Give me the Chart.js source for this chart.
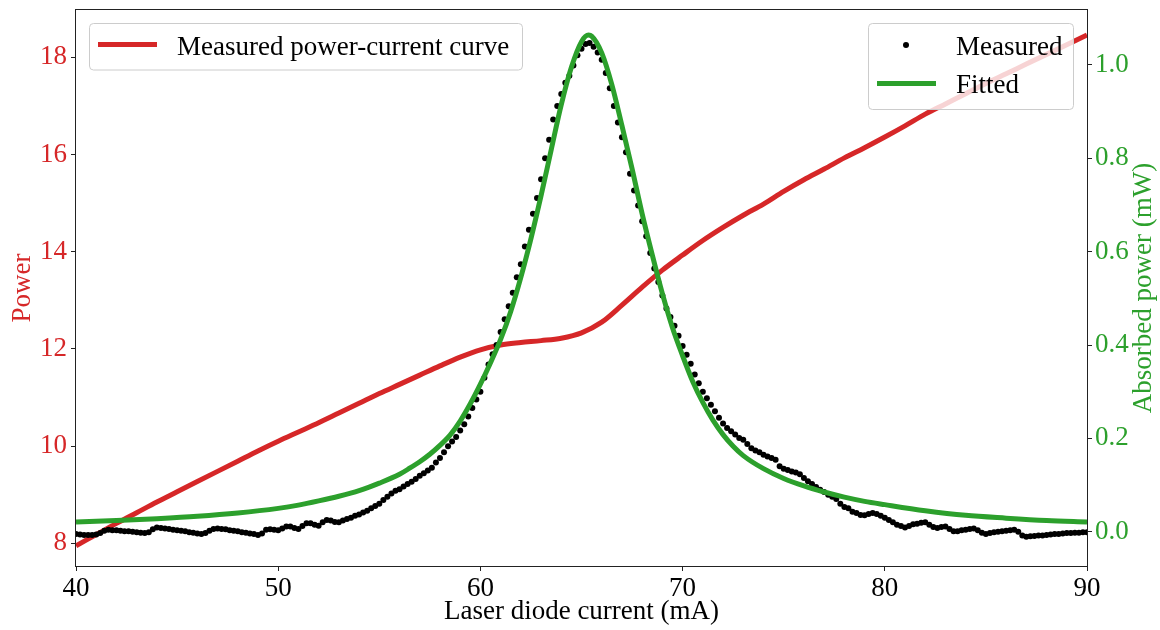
<!DOCTYPE html>
<html>
<head>
<meta charset="utf-8">
<script src="https://cdn.jsdelivr.net/npm/chart.js@4.4.1/dist/chart.umd.min.js"></script>
<style>
  html, body { margin: 0; padding: 0; background: #fff; }
</style>
</head>
<body>
<canvas id="myChart" width="1160" height="630"></canvas>
<script>
// tick labels
var xTicks = [40, 50, 60, 70, 80, 90];
var powerTicks = [8, 10, 12, 14, 16, 18];
var absTicks = [0.0, 0.2, 0.4, 0.6, 0.8, 1.0];

// measured power-current curve (left axis)
var powerCurrent = [40, 41, 42, 43, 44, 45, 46, 47, 48, 49, 50, 51, 52, 53, 54, 55, 56, 57, 58, 59,
    60, 61, 62, 63, 64, 65, 66, 67, 68, 69, 70, 71, 72, 73, 74, 75, 76, 77, 78, 79,
    80, 81, 82, 83, 84, 85, 86, 87, 88, 89, 90];
var powerValues = [7.95, 8.18, 8.41, 8.63, 8.85, 9.06, 9.27, 9.48, 9.69, 9.90, 10.10, 10.29, 10.48, 10.68, 10.88, 11.08, 11.27, 11.46, 11.65, 11.83,
    11.98, 12.08, 12.13, 12.17, 12.22, 12.33, 12.55, 12.90, 13.27, 13.62, 13.93, 14.23, 14.50, 14.75, 14.98, 15.24, 15.48, 15.70, 15.93, 16.14,
    16.36, 16.59, 16.83, 17.04, 17.25, 17.46, 17.66, 17.86, 18.06, 18.26, 18.46];

// absorbed power, measured points: 40 mA to 90 mA every 0.2 mA (one row per mA)
var measuredStart = 40;
var measuredStep = 0.2;
var measuredValues = [
    -0.005, -0.006, -0.007, -0.007, -0.007,   // 40
    -0.006, -0.003, 0.002, 0.004, 0.003,      // 41
    0.003, 0.002, 0.001, 0.001, 0.000,        // 42
    -0.001, -0.002, -0.003, -0.001, 0.005,    // 43
    0.009, 0.008, 0.007, 0.006, 0.004,        // 44
    0.003, 0.002, 0.001, -0.001, -0.002,      // 45
    -0.004, -0.005, -0.003, 0.002, 0.006,     // 46
    0.007, 0.006, 0.005, 0.003, 0.002,        // 47
    0.001, -0.001, -0.002, -0.004, -0.005,    // 48
    -0.007, -0.004, 0.004, 0.005, 0.004,      // 49
    0.003, 0.007, 0.011, 0.011, 0.008,        // 50
    0.006, 0.012, 0.018, 0.018, 0.015,        // 51
    0.013, 0.020, 0.025, 0.024, 0.021,        // 52
    0.020, 0.024, 0.027, 0.030, 0.034,        // 53
    0.037, 0.041, 0.045, 0.050, 0.055,        // 54
    0.060, 0.068, 0.075, 0.082, 0.088,        // 55
    0.091, 0.097, 0.102, 0.107, 0.113,        // 56
    0.120, 0.125, 0.131, 0.137, 0.148,        // 57
    0.158, 0.170, 0.183, 0.193, 0.203,        // 58
    0.217, 0.230, 0.247, 0.265, 0.283,        // 59
    0.300, 0.330, 0.358, 0.380, 0.400,        // 60
    0.428, 0.455, 0.483, 0.512, 0.545,        // 61
    0.573, 0.611, 0.647, 0.681, 0.715,        // 62
    0.755, 0.800, 0.840, 0.883, 0.912,        // 63
    0.938, 0.962, 0.977, 0.999, 1.021,        // 64
    1.035, 1.045, 1.047, 1.039, 1.027,        // 65
    1.011, 0.983, 0.950, 0.912, 0.877,        // 66
    0.845, 0.813, 0.767, 0.731, 0.699,        // 67
    0.665, 0.633, 0.597, 0.564, 0.535,        // 68
    0.506, 0.478, 0.460, 0.441, 0.420,        // 69
    0.398, 0.379, 0.360, 0.337, 0.318,        // 70
    0.300, 0.286, 0.272, 0.258, 0.244,        // 71
    0.232, 0.222, 0.215, 0.208, 0.201,        // 72
    0.197, 0.188, 0.179, 0.174, 0.170,        // 73
    0.165, 0.161, 0.158, 0.154, 0.140,        // 74
    0.135, 0.132, 0.129, 0.127, 0.123,        // 75
    0.115, 0.108, 0.102, 0.096, 0.090,        // 76
    0.085, 0.079, 0.075, 0.070, 0.060,        // 77
    0.053, 0.050, 0.043, 0.040, 0.036,        // 78
    0.035, 0.038, 0.040, 0.038, 0.034,        // 79
    0.030, 0.025, 0.020, 0.015, 0.012,        // 80
    0.009, 0.012, 0.016, 0.017, 0.019,        // 81
    0.020, 0.015, 0.010, 0.008, 0.010,        // 82
    0.011, 0.006, 0.001, 0.001, 0.003,        // 83
    0.004, 0.006, 0.007, 0.003, -0.002,       // 84
    -0.005, -0.003, -0.001, 0.000, 0.001,     // 85
    0.002, 0.003, 0.004, 0.000, -0.008,       // 86
    -0.011, -0.010, -0.009, -0.008, -0.008,   // 87
    -0.007, -0.006, -0.005, -0.005, -0.004,   // 88
    -0.003, -0.003, -0.002, -0.002, -0.001,   // 89
    -0.001                                    // 90
];

// fitted curve
var fitCurrent = [40, 42, 44, 46, 48, 50, 51, 52, 53, 54, 55, 56, 56.5, 57, 57.5, 58, 58.5, 59, 59.5, 60,
    60.5, 61, 61.5, 62, 62.5, 63, 63.5, 64, 64.5, 65, 65.35, 65.5, 66, 66.5, 67, 67.5, 68, 68.5, 69, 69.5,
    70, 70.5, 71, 71.5, 72, 72.5, 73, 74, 75, 76, 77, 78, 79, 80, 82, 84, 86, 88, 90];
var fitValues = [0.021, 0.024, 0.028, 0.033, 0.040, 0.050, 0.057, 0.066, 0.076, 0.088, 0.104, 0.123, 0.136, 0.150, 0.166, 0.185, 0.207, 0.237, 0.274, 0.316,
    0.362, 0.412, 0.472, 0.545, 0.628, 0.720, 0.818, 0.915, 0.995, 1.050, 1.064, 1.062, 1.026, 0.958, 0.870, 0.778, 0.681, 0.593, 0.510, 0.437,
    0.377, 0.322, 0.277, 0.239, 0.208, 0.183, 0.163, 0.135, 0.114, 0.098, 0.085, 0.074, 0.065, 0.058, 0.045, 0.035, 0.029, 0.024, 0.021];

var RED = '#d62728';
var GREEN = '#2ca02c';
var FONT = '"Liberation Serif", "Times New Roman", serif';
var FS = 27;

var powerData = powerCurrent.map(function (x, i) { return { x: x, y: powerValues[i] }; });
var measuredData = measuredValues.map(function (v, i) { return { x: measuredStart + i * measuredStep, y: v }; });
var fitData = fitCurrent.map(function (x, i) { return { x: x, y: fitValues[i] }; });

function roundBox(ctx, x, y, w, h, r) {
    ctx.beginPath();
    ctx.moveTo(x + r, y);
    ctx.lineTo(x + w - r, y);
    ctx.arcTo(x + w, y, x + w, y + r, r);
    ctx.lineTo(x + w, y + h - r);
    ctx.arcTo(x + w, y + h, x + w - r, y + h, r);
    ctx.lineTo(x + r, y + h);
    ctx.arcTo(x, y + h, x, y + h - r, r);
    ctx.lineTo(x, y + r);
    ctx.arcTo(x, y, x + r, y, r);
    ctx.closePath();
    ctx.fillStyle = 'rgba(255,255,255,0.8)';
    ctx.fill();
    ctx.strokeStyle = '#cccccc';
    ctx.lineWidth = 1;
    ctx.stroke();
}

// frame, legends and axis titles
var decorations = {
    id: 'decorations',
    afterDatasetsDraw: function (chart) {
        var ctx = chart.ctx;
        var a = chart.chartArea;
        ctx.save();
        ctx.strokeStyle = '#222';
        ctx.lineWidth = 1;
        ctx.strokeRect(Math.round(a.left) - 0.5, Math.round(a.top) - 0.5, Math.round(a.right - a.left) + 1, Math.round(a.bottom - a.top) + 1);

        ctx.font = FS + 'px ' + FONT;
        ctx.textBaseline = 'alphabetic';
        ctx.textAlign = 'left';

        // left legend
        roundBox(ctx, 89.5, 23.5, 433, 46.5, 4);
        ctx.strokeStyle = RED;
        ctx.lineWidth = 5;
        ctx.beginPath();
        ctx.moveTo(98, 44.5);
        ctx.lineTo(157, 44.5);
        ctx.stroke();
        ctx.fillStyle = '#000';
        ctx.fillText('Measured power-current curve', 177, 54.5);

        // right legend
        roundBox(ctx, 868.5, 23.5, 205, 86, 4);
        ctx.fillStyle = '#000';
        ctx.beginPath();
        ctx.arc(906, 45, 3, 0, Math.PI * 2);
        ctx.fill();
        ctx.strokeStyle = GREEN;
        ctx.lineWidth = 5;
        ctx.beginPath();
        ctx.moveTo(877, 83.5);
        ctx.lineTo(936, 83.5);
        ctx.stroke();
        ctx.fillStyle = '#000';
        ctx.fillText('Measured', 956, 54.5);
        ctx.fillText('Fitted', 956, 93);

        // axis titles
        ctx.textAlign = 'center';
        ctx.textBaseline = 'middle';
        ctx.fillStyle = '#000';
        ctx.fillText('Laser diode current (mA)', (a.left + a.right) / 2, 612);

        ctx.save();
        ctx.translate(23, (a.top + a.bottom) / 2);
        ctx.rotate(-Math.PI / 2);
        ctx.fillStyle = RED;
        ctx.fillText('Power', 0, 0);
        ctx.restore();

        ctx.save();
        ctx.translate(1144, (a.top + a.bottom) / 2);
        ctx.rotate(-Math.PI / 2);
        ctx.fillStyle = GREEN;
        ctx.fillText('Absorbed power (mW)', 0, 0);
        ctx.restore();

        ctx.restore();
    }
};

function fixedTicks(list) {
    return function (scale) {
        scale.ticks = list.map(function (v) { return { value: v }; });
    };
}

function fixSize(w, h) {
    return function (s) {
        if (w) s.width = w;
        if (h) s.height = h;
        s.paddingTop = 0;
        s.paddingBottom = 0;
        s.paddingLeft = 0;
        s.paddingRight = 0;
    };
}

var tickGrid = { drawOnChartArea: false, drawTicks: true, tickLength: 5, tickColor: '#222', tickWidth: 1 };

var ctx = document.getElementById('myChart').getContext('2d');
var myChart = new Chart(ctx, {
    type: 'line',
    data: {
        datasets: [
            {
                label: 'Fitted',
                data: fitData,
                yAxisID: 'y2',
                borderColor: GREEN,
                borderWidth: 5,
                pointRadius: 0,
                cubicInterpolationMode: 'monotone',
                order: 1
            },
            {
                label: 'Measured',
                data: measuredData,
                yAxisID: 'y2',
                showLine: false,
                pointRadius: 3,
                pointBorderWidth: 0,
                pointBackgroundColor: '#000',
                order: 2
            },
            {
                label: 'Measured power-current curve',
                data: powerData,
                yAxisID: 'y',
                borderColor: RED,
                borderWidth: 5,
                pointRadius: 0,
                cubicInterpolationMode: 'monotone',
                order: 3
            }
        ]
    },
    options: {
        responsive: false,
        animation: false,
        layout: { padding: { top: 10, left: 0, right: 0, bottom: 0 } },
        plugins: {
            legend: { display: false },
            tooltip: { enabled: false }
        },
        scales: {
            x: {
                type: 'linear',
                position: 'bottom',
                min: 40,
                max: 90,
                afterBuildTicks: fixedTicks(xTicks),
                afterFit: fixSize(0, 64),
                grid: tickGrid,
                border: { display: false },
                ticks: { color: '#000', font: { family: FONT, size: FS }, padding: 2, maxRotation: 0, autoSkip: false }
            },
            y: {
                type: 'linear',
                position: 'left',
                min: 7.533,
                max: 18.973,
                afterBuildTicks: fixedTicks(powerTicks),
                afterFit: fixSize(76, 0),
                grid: tickGrid,
                border: { display: false },
                ticks: { color: RED, font: { family: FONT, size: FS }, padding: 4, autoSkip: false }
            },
            y2: {
                type: 'linear',
                position: 'right',
                min: -0.0735,
                max: 1.1178,
                afterBuildTicks: fixedTicks(absTicks),
                afterFit: fixSize(73, 0),
                grid: tickGrid,
                border: { display: false },
                ticks: {
                    color: GREEN, font: { family: FONT, size: FS }, padding: 3, autoSkip: false,
                    callback: function (v) { return v.toFixed(1); }
                }
            }
        }
    },
    plugins: [decorations]
});
</script>
</body>
</html>
